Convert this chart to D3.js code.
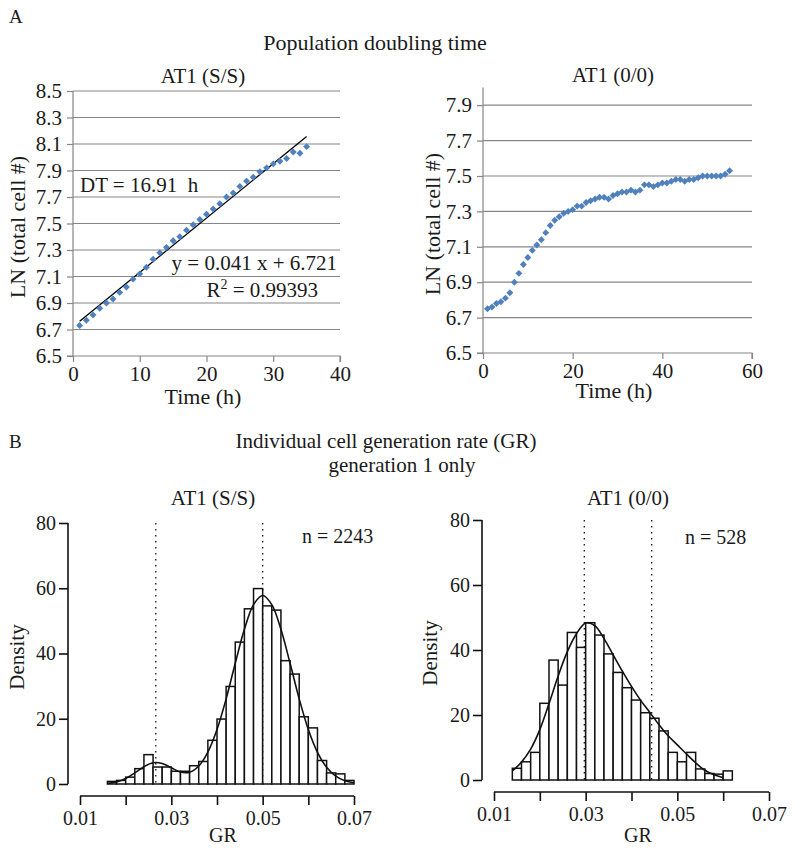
<!DOCTYPE html>
<html><head><meta charset="utf-8">
<script src="https://cdn.jsdelivr.net/npm/d3@7"></script>
<style>
body{margin:0;background:#fff}
text{font-family:"Liberation Serif","Times New Roman",serif;fill:#1a1a1a}
</style>
</head><body>
<svg id="c" width="800" height="852"></svg>
<script>
// ---------- Panel A data ----------
const ssTime = [1,2,3,4,5,6,7,8,9,10,11,12,13,14,15,16,17,18,19,20,21,22,23,24,25,26,27,28,29,30,31,32,33,34,35];
const ssLN = [6.73,6.77,6.81,6.86,6.90,6.93,6.98,7.02,7.08,7.12,7.17,7.23,7.28,7.32,7.37,7.40,7.45,7.49,7.53,7.57,7.61,7.65,7.70,7.73,7.78,7.82,7.85,7.89,7.92,7.95,7.97,7.99,8.04,8.03,8.08];
const fitSlope = 0.041, fitIntercept = 6.721;
const fitRange = [1, 35];
const zzTime = [1,2,3,4,5,6,7,8,9,10,11,12,13,14,15,16,17,18,19,20,21,22,23,24,25,26,27,28,29,30,31,32,33,34,35,36,37,38,39,40,41,42,43,44,45,46,47,48,49,50,51,52,53,54,55];
const zzLN = [6.75,6.76,6.78,6.79,6.81,6.84,6.90,6.95,7.00,7.04,7.08,7.11,7.14,7.18,7.22,7.25,7.27,7.29,7.30,7.31,7.33,7.33,7.35,7.36,7.37,7.38,7.38,7.37,7.39,7.40,7.41,7.41,7.42,7.41,7.42,7.45,7.45,7.44,7.45,7.46,7.46,7.47,7.48,7.48,7.47,7.48,7.48,7.49,7.50,7.50,7.50,7.50,7.50,7.51,7.53];
const ssYTicks = [6.5,6.7,6.9,7.1,7.3,7.5,7.7,7.9,8.1,8.3,8.5];
const ssXTicks = [0,10,20,30,40];
const zzYTicks = [6.5,6.7,6.9,7.1,7.3,7.5,7.7,7.9];
const zzXTicks = [0,20,40,60];

// ---------- Panel B data ----------
const binWidth = 0.002;
const ssBinLeft = [0.016,0.018,0.020,0.022,0.024,0.026,0.028,0.030,0.032,0.034,0.036,0.038,0.040,0.042,0.044,0.046,0.048,0.050,0.052,0.054,0.056,0.058,0.060,0.062,0.064,0.066,0.068];
const ssDensity = [0.8,1.1,2.1,4.7,9.0,5.2,5.2,3.9,3.9,5.6,6.9,13.4,19.9,29.9,43.5,53.7,59.9,54.6,53.3,37.8,33.7,20.6,17.2,7.2,3.4,3.1,1.1];
const ssCurveX = [0.016,0.018,0.020,0.022,0.024,0.026,0.028,0.030,0.032,0.034,0.036,0.038,0.040,0.042,0.044,0.046,0.048,0.050,0.052,0.054,0.056,0.058,0.060,0.062,0.064,0.066,0.068,0.070];
const ssCurveY = [0.2,0.65,1.7,3.4,5.3,6.5,6.3,5.0,3.65,3.6,5.5,9.8,16.7,26.1,37,47.4,55,57.8,55,47.4,37,26.1,16.7,9.7,5.1,2.4,1.0,0.4];
const ssVLines = [0.0266, 0.050];
const zzBinLeft = [0.014,0.016,0.018,0.020,0.022,0.024,0.026,0.028,0.030,0.032,0.034,0.036,0.038,0.040,0.042,0.044,0.046,0.048,0.050,0.052,0.054,0.056,0.058,0.060];
const zzDensity = [3.6,5.6,8.5,23.6,36.9,29.2,45.4,40.8,48.4,44.6,38.8,33.1,28.4,24.6,20.7,19.0,15.1,8.5,5.6,8.5,3.4,2.0,1.8,2.8];
const zzCurveX = [0.014,0.016,0.018,0.020,0.022,0.024,0.026,0.028,0.030,0.032,0.034,0.036,0.038,0.040,0.042,0.044,0.046,0.048,0.050,0.052,0.054,0.056,0.058,0.060];
const zzCurveY = [2.8,5.5,9.5,15.5,23.5,32,39.5,45,48.3,47.5,43.5,38.5,33.5,28.8,24.5,20.8,17,13.6,10.8,8,5.3,3.0,1.6,0.7];
const zzVLines = [0.0297, 0.0444];
const grTicks = [0.01,0.02,0.03,0.04,0.05,0.06,0.07];
const grLabels = [0.01,0.03,0.05,0.07];
const densTicks = [0,20,40,60,80];

const svg = d3.select("#c");
const GRID = "#868686", BLUE = "#4F81BD";

function txt(x, y, s, size, anchor, rot) {
  const t = svg.append("text").attr("font-size", size).attr("text-anchor", anchor || "start").text(s);
  if (rot) t.attr("transform", `translate(${x},${y}) rotate(-90)`).attr("dy", "0.35em");
  else t.attr("x", x).attr("y", y);
  return t;
}

// ---------- Headers ----------
txt(9, 23, "A", 19);
txt(375, 50, "Population doubling time", 22, "middle");
txt(9, 448, "B", 19);
txt(386, 448, "Individual cell generation rate (GR)", 21, "middle");
txt(402, 472, "generation 1 only", 21, "middle");

// ---------- Excel-like scatter panel ----------
function scatterPanel(o) {
  const x = d3.scaleLinear().domain(o.xDom).range(o.xR);
  const y = d3.scaleLinear().domain(o.yDom).range(o.yR);
  const g = svg.append("g");
  g.selectAll("line.grid").data(o.yTicks.slice(1)).join("line")
    .attr("x1", o.xR[0]).attr("x2", o.xR[1])
    .attr("y1", d => y(d)).attr("y2", d => y(d))
    .attr("stroke", GRID).attr("stroke-width", 1.2);
  const ya = g.append("g").attr("transform", `translate(${o.xR[0]},0)`)
    .call(d3.axisLeft(y).tickValues(o.yTicks).tickSize(6).tickPadding(5).tickFormat(d3.format(".1f")));
  ya.select(".domain").attr("stroke", GRID).attr("stroke-width", 1.2).attr("d", `M-6,${o.yR[0]}H0V${o.yR[1]}`);
  ya.selectAll(".tick line").attr("stroke", GRID).attr("stroke-width", 1.2);
  ya.selectAll(".tick text").attr("font-size", 21).attr("font-family", '"Liberation Serif",serif').attr("fill", "#1a1a1a");
  const xa = g.append("g").attr("transform", `translate(0,${o.yR[0]})`)
    .call(d3.axisBottom(x).tickValues(o.xTicks).tickSize(6).tickPadding(4).tickFormat(d3.format("d")));
  xa.select(".domain").attr("stroke", GRID).attr("stroke-width", 1.2).attr("d", `M${o.xR[0]},0H${o.xR[1]}V6`);
  xa.selectAll(".tick line").attr("stroke", GRID).attr("stroke-width", 1.2);
  xa.selectAll(".tick text").attr("font-size", 21).attr("font-family", '"Liberation Serif",serif').attr("fill", "#1a1a1a");
  if (o.fit) {
    g.append("line")
      .attr("x1", x(o.fit[0])).attr("y1", y(fitIntercept + fitSlope * o.fit[0]))
      .attr("x2", x(o.fit[1])).attr("y2", y(fitIntercept + fitSlope * o.fit[1]))
      .attr("stroke", "#000").attr("stroke-width", 1.3);
  }
  const sym = d3.symbol().type(d3.symbolSquare).size(24);
  g.selectAll("path.pt").data(o.t.map((t, i) => [t, o.v[i]])).join("path")
    .attr("d", sym)
    .attr("transform", d => `translate(${x(d[0])},${y(d[1])}) rotate(45)`)
    .attr("fill", BLUE);
  return {x, y};
}

scatterPanel({xDom:[0,40], xR:[73,340], yDom:[6.5,8.5], yR:[356,91], yTicks:ssYTicks, xTicks:ssXTicks, t:ssTime, v:ssLN, fit:fitRange});
txt(203, 83, "AT1 (S/S)", 21, "middle");
txt(203, 404, "Time (h)", 22, "middle");
txt(17, 227, "LN (total cell #)", 22, "middle", true);
txt(80, 192, "DT = 16.91  h", 21).attr("xml:space", "preserve").style("white-space", "pre");
txt(337, 270, "y = 0.041 x + 6.721", 21, "end");
const r2 = txt(318, 297, "R", 21, "end");
r2.text(null);
r2.append("tspan").text("R");
r2.append("tspan").attr("font-size", 14).attr("dy", -8).text("2");
r2.append("tspan").attr("dy", 8).text(" = 0.99393");

scatterPanel({xDom:[0,60], xR:[483,752], yDom:[6.5,8.0], yR:[353,87.5], yTicks:zzYTicks, xTicks:zzXTicks, t:zzTime, v:zzLN});
txt(613, 82, "AT1 (0/0)", 21, "middle");
txt(614, 398, "Time (h)", 22, "middle");
txt(432, 224, "LN (total cell #)", 22, "middle", true);

// ---------- Histogram panel ----------
function histPanel(o) {
  const x = d3.scaleLinear().domain([0.01, 0.07]).range(o.xR);
  const y = d3.scaleLinear().domain([0, 80]).range(o.yR);
  const g = svg.append("g");
  g.selectAll("rect").data(o.left.map((l, i) => [l, o.dens[i]])).join("rect")
    .attr("x", d => x(d[0])).attr("width", d => x(d[0] + binWidth) - x(d[0]))
    .attr("y", d => y(d[1])).attr("height", d => y(0) - y(d[1]))
    .attr("fill", "#fff").attr("stroke", "#111").attr("stroke-width", 1.5);
  g.selectAll("line.v").data(o.vlines).join("line")
    .attr("x1", d => x(d)).attr("x2", d => x(d)).attr("y1", y(80)).attr("y2", y(0))
    .attr("stroke", "#111").attr("stroke-width", 1.3).attr("stroke-dasharray", "1.4,4.6");
  g.append("path").datum(o.cx.map((c, i) => [c, o.cy[i]]))
    .attr("d", d3.line().x(d => x(d[0])).y(d => y(d[1])).curve(d3.curveCatmullRom))
    .attr("fill", "none").attr("stroke", "#111").attr("stroke-width", 1.6);
  const ya = g.append("g").attr("transform", `translate(${o.xR0},0)`)
    .call(d3.axisLeft(y).tickValues(densTicks).tickSize(9).tickPadding(3).tickFormat(d3.format("d")));
  ya.select(".domain").attr("stroke", "#111").attr("stroke-width", 1.6).attr("d", `M0,${o.yR[0]}V${o.yR[1]}`);
  ya.selectAll(".tick line").attr("stroke", "#111").attr("stroke-width", 1.6);
  ya.selectAll(".tick text").attr("font-size", 20).attr("font-family", '"Liberation Serif",serif').attr("fill", "#1a1a1a");
  const xa = g.append("g").attr("transform", `translate(0,${o.xAxisY})`)
    .call(d3.axisBottom(x).tickValues(grTicks).tickSize(9).tickPadding(6)
      .tickFormat(d => grLabels.some(v => Math.abs(v - d) < 1e-9) ? d3.format(".2f")(d) : ""));
  xa.select(".domain").attr("stroke", "#111").attr("stroke-width", 1.6).attr("d", `M${o.xR[0]},0H${o.xR[1]}`);
  xa.selectAll(".tick line").attr("stroke", "#111").attr("stroke-width", 1.6);
  xa.selectAll(".tick text").attr("font-size", 20).attr("font-family", '"Liberation Serif",serif').attr("fill", "#1a1a1a");
}

histPanel({xR:[80,354], yR:[784,523], xR0:68, xAxisY:796, left:ssBinLeft, dens:ssDensity, cx:ssCurveX, cy:ssCurveY, vlines:ssVLines});
txt(213, 505, "AT1 (S/S)", 21, "middle");
txt(302, 543, "n = 2243", 20);
txt(223, 842, "GR", 20, "middle");
txt(17, 657, "Density", 21, "middle", true);

histPanel({xR:[494,769], yR:[780,520], xR0:482, xAxisY:792, left:zzBinLeft, dens:zzDensity, cx:zzCurveX, cy:zzCurveY, vlines:zzVLines});
txt(628, 505, "AT1 (0/0)", 21, "middle");
txt(685, 544, "n = 528", 20);
txt(638, 842, "GR", 20, "middle");
txt(430, 653, "Density", 21, "middle", true);
</script>
</body></html>
